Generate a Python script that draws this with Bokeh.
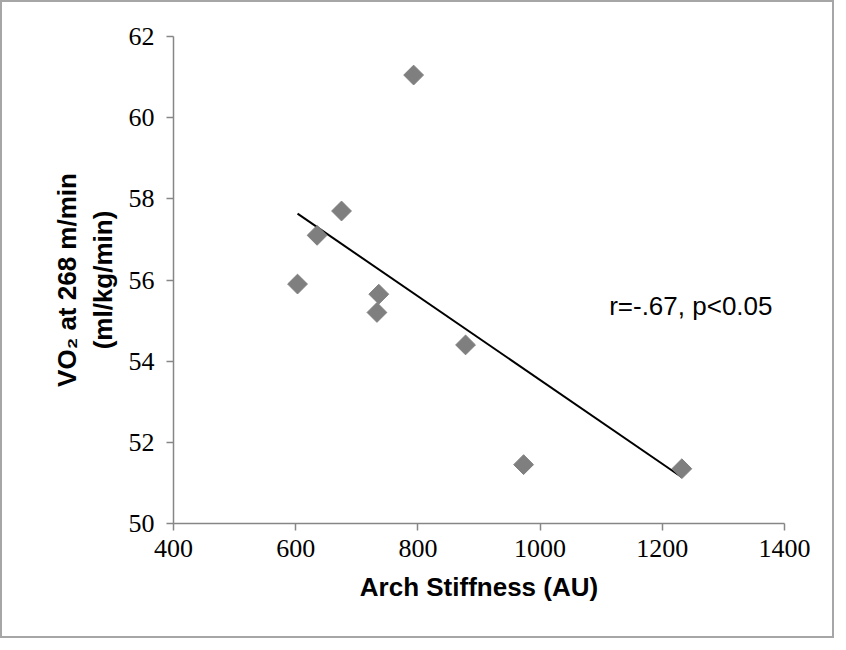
import numpy as np
from bokeh.plotting import figure
from bokeh.models import FixedTicker, Range1d
from bokeh.core.properties import value
from bokeh.embed import file_html
from bokeh.resources import INLINE

# ---- data ----
arch_stiffness = [603, 635, 675, 733, 736, 793, 878, 973, 1232]
vo2 = [55.9, 57.1, 57.7, 55.2, 55.65, 61.05, 54.4, 51.45, 51.35]
x_ticks = [400, 600, 800, 1000, 1200, 1400]
y_ticks = [50, 52, 54, 56, 58, 60, 62]
stat_text = "r=-.67, p<0.05"
stat_pos = (1113, 55.35)
x_title = "Arch Stiffness (AU)"
y_title = "VO\u2082 at 268 m/min\n(ml/kg/min)"

W, H = 834, 638
p = figure(width=W, height=H, output_backend="svg", toolbar_location=None,
           x_range=Range1d(400, 1400), y_range=Range1d(50, 62),
           min_border_left=171, min_border_right=52,
           min_border_top=34, min_border_bottom=117)
p.styles = {"border": "2px solid #a6a6a6"}
p.outline_line_color = None
p.grid.visible = False
p.background_fill_color = "white"
p.border_fill_color = "white"

for ax in (p.xaxis[0], p.yaxis[0]):
    ax.axis_line_color = "#868686"
    ax.axis_line_width = 1.5
    ax.major_tick_line_color = "#868686"
    ax.major_tick_line_width = 1.5
    ax.major_tick_out = 7
    ax.major_tick_in = 0
    ax.minor_tick_line_color = None
    ax.major_label_text_font = "Liberation Serif"
    ax.major_label_text_font_size = "26px"
    ax.major_label_text_color = "black"
    ax.axis_label_text_font = "Liberation Sans"
    ax.axis_label_text_font_style = "bold"
    ax.axis_label_text_font_size = "26px"
    ax.axis_label_text_color = "black"

p.xaxis.ticker = FixedTicker(ticks=x_ticks)
p.yaxis.ticker = FixedTicker(ticks=y_ticks)
p.xaxis.major_label_standoff = 9
p.yaxis.major_label_standoff = 12
p.xaxis.axis_label = x_title
p.yaxis.axis_label = y_title
p.xaxis.axis_label_standoff = 12
p.yaxis.axis_label_standoff = 8

# regression line (least squares from the data)
xs = np.array(arch_stiffness, dtype=float)
ys = np.array(vo2, dtype=float)
slope, intercept = np.polyfit(xs, ys, 1)
lx = [xs.min(), xs.max()]
ly = [slope * v + intercept for v in lx]
p.line(lx, ly, line_color="black", line_width=2)

p.scatter(arch_stiffness, vo2, marker="square", size=14, angle=np.pi / 4,
          fill_color="#7f7f7f", line_color="#7f7f7f")

p.text([stat_pos[0]], [stat_pos[1]], text=[stat_text],
       text_font=value("Liberation Sans"), text_font_size="26px",
       text_baseline="middle", text_align="left", text_color="black")

open("out.html", "w").write(file_html(p, INLINE))
